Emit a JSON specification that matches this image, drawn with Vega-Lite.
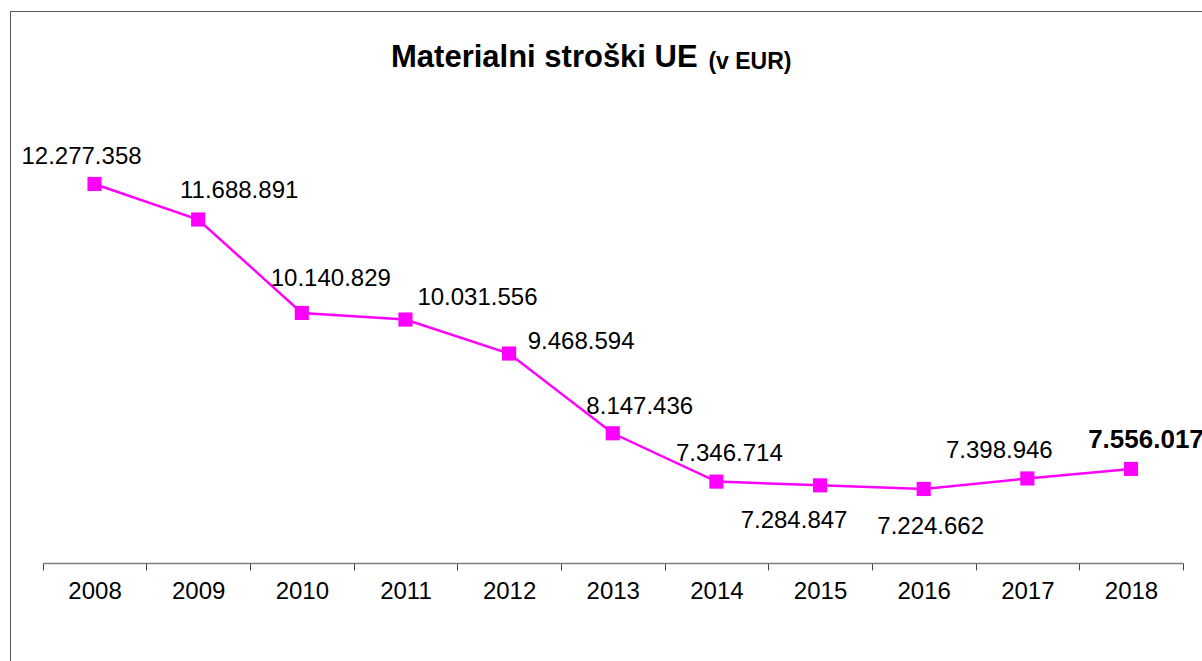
{
  "$schema": "https://vega.github.io/schema/vega-lite/v6.json",
  "width": 1192,
  "height": 650,
  "autosize": "none",
  "padding": {"left": 10, "top": 11, "right": 0, "bottom": 0},
  "background": "white",
  "config": {
    "view": {"stroke": "#555555", "strokeWidth": 1, "strokeDash": [1192, 1842, 650]},
    "font": "Liberation Sans",
    "locale": {"number": {"decimal": ",", "thousands": ".", "grouping": [3], "currency": ["", " €"]}}
  },
  "title": {
    "text": "Materialni stroški UE",
    "anchor": "start",
    "frame": "group",
    "dx": 381,
    "offset": -63,
    "fontSize": 31,
    "fontWeight": "bold",
    "font": "Liberation Sans",
    "color": "black",
    "baseline": "top"
  },
  "data": {
    "values": [
      {"year": "2008", "value": 12277358},
      {"year": "2009", "value": 11688891},
      {"year": "2010", "value": 10140829},
      {"year": "2011", "value": 10031556},
      {"year": "2012", "value": 9468594},
      {"year": "2013", "value": 8147436},
      {"year": "2014", "value": 7346714},
      {"year": "2015", "value": 7284847},
      {"year": "2016", "value": 7224662},
      {"year": "2017", "value": 7398946},
      {"year": "2018", "value": 7556017}
    ]
  },
  "encoding": {
    "x": {
      "field": "year",
      "type": "ordinal",
      "scale": {"type": "band", "range": [32.7, 1172.8], "paddingInner": 0, "paddingOuter": 0},
      "axis": {
        "title": null,
        "orient": "bottom",
        "offset": -98.1,
        "labelAngle": 0,
        "labelFontSize": 24,
        "labelColor": "black",
        "labelFont": "Liberation Sans",
        "labelPadding": 10,
        "tickSize": 7,
        "tickBand": "extent",
        "tickColor": "#404040",
        "tickWidth": 1,
        "domainColor": "#7f7f7f",
        "domainWidth": 1.5,
        "grid": false
      }
    },
    "y": {
      "field": "value",
      "type": "quantitative",
      "scale": {"domain": [6000000, 14000000], "range": [551.9, 69], "zero": false, "nice": false},
      "axis": null
    }
  },
  "layer": [
    {"mark": {"type": "line", "color": "#FF00FF", "strokeWidth": 2.5}},
    {"mark": {"type": "point", "shape": "square", "filled": true, "color": "#FF00FF", "size": 200, "opacity": 1}},
    {"transform": [{"filter": "datum.year === '2008'"}], "mark": {"type": "text", "dx": -13, "dy": -20, "fontSize": 24, "baseline": "alphabetic", "align": "center", "color": "black"}, "encoding": {"text": {"field": "value", "type": "quantitative", "format": ",d"}}},
    {"transform": [{"filter": "datum.year === '2009'"}], "mark": {"type": "text", "dx": 41, "dy": -21.5, "fontSize": 24, "baseline": "alphabetic", "align": "center", "color": "black"}, "encoding": {"text": {"field": "value", "type": "quantitative", "format": ",d"}}},
    {"transform": [{"filter": "datum.year === '2010'"}], "mark": {"type": "text", "dx": 29, "dy": -27, "fontSize": 24, "baseline": "alphabetic", "align": "center", "color": "black"}, "encoding": {"text": {"field": "value", "type": "quantitative", "format": ",d"}}},
    {"transform": [{"filter": "datum.year === '2011'"}], "mark": {"type": "text", "dx": 72, "dy": -15, "fontSize": 24, "baseline": "alphabetic", "align": "center", "color": "black"}, "encoding": {"text": {"field": "value", "type": "quantitative", "format": ",d"}}},
    {"transform": [{"filter": "datum.year === '2012'"}], "mark": {"type": "text", "dx": 72, "dy": -4.5, "fontSize": 24, "baseline": "alphabetic", "align": "center", "color": "black"}, "encoding": {"text": {"field": "value", "type": "quantitative", "format": ",d"}}},
    {"transform": [{"filter": "datum.year === '2013'"}], "mark": {"type": "text", "dx": 27, "dy": -19, "fontSize": 24, "baseline": "alphabetic", "align": "center", "color": "black"}, "encoding": {"text": {"field": "value", "type": "quantitative", "format": ",d"}}},
    {"transform": [{"filter": "datum.year === '2014'"}], "mark": {"type": "text", "dx": 13, "dy": -21, "fontSize": 24, "baseline": "alphabetic", "align": "center", "color": "black"}, "encoding": {"text": {"field": "value", "type": "quantitative", "format": ",d"}}},
    {"transform": [{"filter": "datum.year === '2015'"}], "mark": {"type": "text", "dx": -26, "dy": 43, "fontSize": 24, "baseline": "alphabetic", "align": "center", "color": "black"}, "encoding": {"text": {"field": "value", "type": "quantitative", "format": ",d"}}},
    {"transform": [{"filter": "datum.year === '2016'"}], "mark": {"type": "text", "dx": 7, "dy": 45, "fontSize": 24, "baseline": "alphabetic", "align": "center", "color": "black"}, "encoding": {"text": {"field": "value", "type": "quantitative", "format": ",d"}}},
    {"transform": [{"filter": "datum.year === '2017'"}], "mark": {"type": "text", "dx": -28, "dy": -20, "fontSize": 24, "baseline": "alphabetic", "align": "center", "color": "black"}, "encoding": {"text": {"field": "value", "type": "quantitative", "format": ",d"}}},
    {"transform": [{"filter": "datum.year === '2018'"}], "mark": {"type": "text", "dx": 15, "dy": -21, "fontSize": 26, "fontWeight": "bold", "baseline": "alphabetic", "align": "center", "color": "black"}, "encoding": {"text": {"field": "value", "type": "quantitative", "format": ",d"}}},
    {
      "transform": [{"filter": "datum.year === '2014'"}],
      "mark": {"type": "text", "text": "(v EUR)", "dx": -8, "fontSize": 23, "fontWeight": "bold", "baseline": "alphabetic", "align": "left", "color": "black"},
      "encoding": {
        "y": {"datum": 14177000, "type": "quantitative"}
      }
    }
  ]
}
